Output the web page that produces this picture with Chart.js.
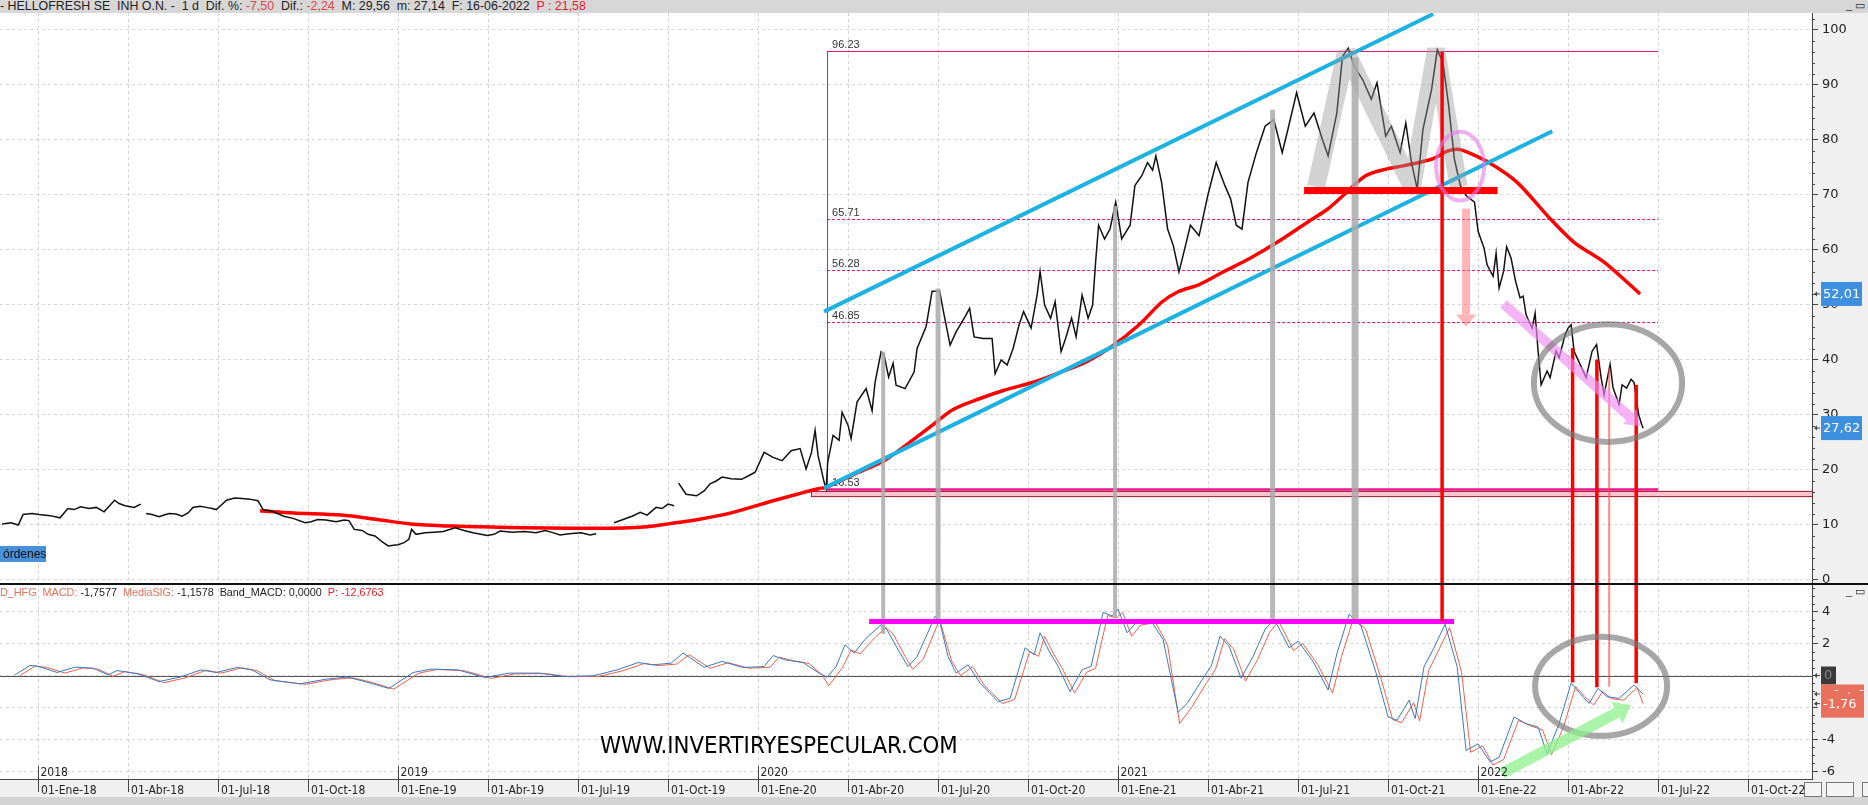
<!DOCTYPE html>
<html>
<head>
<meta charset="utf-8">
<script src="https://cdn.jsdelivr.net/npm/chart.js@4.4.0/dist/chart.umd.min.js"></script>
<style>
  body { margin:0; width:1868px; height:805px; overflow:hidden; background:#fff; position:relative; font-family:'Liberation Sans', Arial, sans-serif; }
  #head { position:absolute; left:0; top:0; width:1868px; height:13px; background:#d7d7d7; font-size:12.4px; line-height:13px; color:#222; white-space:nowrap; }
  #head .neg { color:#e0454a; }
  #head .p { color:#e8202a; }
  #chart { position:absolute; left:0; top:13px; }
  #macdTxt { position:absolute; left:0; top:586px; font-size:10.8px; line-height:13px; color:#222; white-space:nowrap; }
  #macdTxt .lab { color:#e8705a; }
  #macdTxt .p { color:#e8202a; }
  #ordenes { position:absolute; left:0; top:546px; width:43px; height:16px; background:#4a90d9; color:#111; font-size:12px; line-height:16px; padding-left:3px; }
  #wm { position:absolute; left:600px; top:732px; font-family:'Liberation Sans Narrow', 'DejaVu Sans Condensed', Arial, sans-serif; font-size:23.7px; line-height:26px; color:#000; white-space:nowrap; }
  #foot { position:absolute; left:0; top:797px; width:1868px; height:8px; background:#d4d4d4; }
  .btn { position:absolute; border:1px solid #777; background:#f4f4f4; }
  .win { position:absolute; font-size:11px; line-height:11px; color:#333; }
</style>
</head>
<body>
<div id="head">- HELLOFRESH SE&nbsp; INH O.N. -&nbsp; 1 d&nbsp; Dif. %: <span class="neg">-7,50</span>&nbsp; Dif.: <span class="neg">-2,24</span>&nbsp; M: 29,56&nbsp; m: 27,14&nbsp; F: 16-06-2022&nbsp; <span class="p">P : 21,58</span></div>
<div class="win" style="left:1846px; top:0px;">_ &#9645;</div>
<canvas id="chart" width="1868" height="792"></canvas>
<div id="macdTxt"><span class="lab">D_HFG&nbsp; MACD:</span> -1,7577&nbsp; <span class="lab">MediaSIG:</span> -1,1578&nbsp; Band_MACD: 0,0000&nbsp; <span class="p">P: -12,6763</span></div>
<div class="win" style="left:1846px; top:586px;">_ &#9645;</div>
<div id="ordenes">órdenes</div>
<div id="wm">WWW.INVERTIRYESPECULAR.COM</div>
<div id="foot"></div>
<div class="btn" style="left:1804px; top:782px; width:16px; height:13px;"></div>
<div class="btn" style="left:1826px; top:782px; width:26px; height:13px;"></div>
<div class="btn" style="left:1862px; top:782px; width:10px; height:13px;"></div>
<script>
// time axis: months since 01-Ene-2018
var xMin = -1.27, xMax = 59.13;
var quarterTicks = [0, 3, 6, 9, 12, 15, 18, 21, 24, 27, 30, 33, 36, 39, 42, 45, 48, 51, 54, 57];
var quarterNames = ['Ene', 'Abr', 'Jul', 'Oct'];
var yearTicks = [0, 12, 24, 36, 48];
var yearLabels = ['2018', '2019', '2020', '2021', '2022'];
var priceTicks = [0, 10, 20, 30, 40, 50, 60, 70, 80, 90, 100];
var macdTicks = [-6, -4, -2, 0, 2, 4];

// HelloFresh daily closes
var priceT = [
  -1.2, -0.9, -0.66, -0.5, -0.2, 0.03, 0.4, 0.73, 0.99, 1.2,
  1.42, 1.7, 1.94, 2.2, 2.55, 2.7, 2.9, 3.2, 3.42, 3.5,
  3.6, 3.8, 4.03, 4.2, 4.375, 4.6, 4.8, 5.0, 5.16, 5.4,
  5.6, 5.8, 5.94, 6.1, 6.28, 6.55, 6.8, 7.05, 7.33, 7.5,
  7.8, 8.19, 8.5, 8.9, 9.1, 9.32, 9.6, 9.93, 10.2, 10.36,
  10.54, 10.8, 11.0, 11.23, 11.45, 11.67, 11.85, 12.0, 12.2, 12.36,
  12.45, 12.6, 12.9, 13.2, 13.5, 13.9, 14.2, 14.5, 14.97, 15.2,
  15.4, 15.8, 16.2, 16.6, 16.9, 17.1, 17.4, 17.7, 18.1, 18.4,
  18.6, 18.9, 19.2, 19.5, 19.8, 20.07, 20.3, 20.6, 20.8, 21.0,
  21.2, 21.28, 21.35, 21.6, 21.95, 22.2, 22.4, 22.6, 22.8, 23.1,
  23.45, 23.7, 23.9, 24.2, 24.5, 24.8, 25.1, 25.4, 25.6, 25.78,
  25.9, 26.0, 26.2, 26.27, 26.32, 26.5, 26.7, 26.8, 27.0, 27.1,
  27.3, 27.6, 27.8, 27.9, 28.1, 28.2, 28.35, 28.5, 28.6, 28.9,
  29.2, 29.3, 29.6, 29.8, 30.05, 30.2, 30.4, 30.6, 30.9, 31.05,
  31.2, 31.5, 31.8, 31.9, 32.1, 32.3, 32.5, 32.7, 32.85, 33.1,
  33.3, 33.4, 33.55, 33.75, 33.9, 34.1, 34.25, 34.45, 34.6, 34.8,
  35.0, 35.15, 35.25, 35.35, 35.55, 35.73, 35.92, 36.12, 36.4, 36.56,
  36.79, 36.98, 37.15, 37.26, 37.45, 37.65, 37.84, 38.03, 38.22, 38.41,
  38.7, 38.99, 39.27, 39.56, 39.75, 39.94, 40.13, 40.33, 40.61, 40.9,
  41.19, 41.47, 41.66, 41.95, 42.24, 42.53, 42.81, 43.0, 43.29, 43.48,
  43.67, 43.87, 44.15, 44.44, 44.63, 44.92, 45.11, 45.4, 45.59, 45.78,
  45.97, 46.16, 46.45, 46.64, 46.83, 47.02, 47.21, 47.41, 47.6, 47.88,
  48.0, 48.2, 48.3, 48.5, 48.6, 48.7, 48.85, 48.95, 49.1, 49.25,
  49.4, 49.5, 49.6, 49.8, 49.9, 50.0, 50.1, 50.3, 50.4, 50.6,
  50.7, 50.9, 51.0, 51.1, 51.2, 51.4, 51.6, 51.8, 51.95, 52.1,
  52.2, 52.4, 52.5, 52.7, 52.8, 52.95, 53.1, 53.2, 53.35, 53.45,
  53.5
];
var priceV = [
  10.2, 10.4, 10.0, 11.9, 12.1, 11.9, 11.7, 11.3, 13.0, 12.8,
  13.3, 13.0, 13.2, 12.4, 14.5, 13.9, 13.5, 13.2, 13.8, null,
  12.1, 11.9, 11.5, 11.8, 12.1, 12.0, 11.6, 12.2, 13.2, 13.4,
  13.2, 13.0, 12.8, 13.6, 14.5, 14.9, 14.8, 14.7, 14.4, 12.8,
  12.5, 11.6, 11.2, 10.4, 10.6, 11.0, 10.9, 10.6, 10.9, 10.8,
  9.2, 9.0, 8.3, 8.0, 7.0, 6.2, 6.3, 6.4, 6.8, 7.4,
  9.2, 8.3, 8.6, 8.7, 8.8, 9.5, 9.0, 8.6, 8.1, 8.3,
  8.9, 8.7, 8.8, 8.6, 9.0, 8.7, 8.2, 8.4, 8.6, 8.2,
  8.4, null, 10.4, 11.0, 11.6, 12.3, 11.8, 13.2, 13.0, 13.8,
  13.5, null, 17.6, 15.6, 15.3, 16.2, 17.5, 18.0, 18.7, 18.4,
  18.3, 19.0, 19.6, 23.2, 22.3, 21.7, 23.5, 23.9, 20.2, 23.2,
  27.2, 22.6, 17.8, 16.6, 21.4, 26.3, 25.4, 30.5, 28.1, 25.7,
  32.4, 34.8, 30.8, 36.0, 41.5, 40.9, 36.9, 39.4, 35.4, 34.8,
  37.8, 42.1, 46.1, 52.5, 52.5, 48.2, 42.7, 45.1, 47.9, 49.4,
  44.2, 43.9, 43.9, 37.5, 40.0, 39.1, 42.1, 46.4, 48.8, 45.8,
  51.8, 56.1, 50.0, 47.6, 50.6, 41.5, 43.9, 47.6, 44.2, 51.8,
  47.6, 50.0, 57.8, 64.5, 62.0, 63.8, 68.7, 62.0, 64.5, 71.7,
  73.5, 75.9, 74.5, 77.1, 72.3, 63.8, 60.8, 56.0, 60.2, 64.5,
  62.6, 69.9, 75.9, 71.7, 69.3, 64.5, 63.8, 72.3, 77.7, 82.5,
  83.7, 77.7, 81.9, 88.6, 82.5, 84.9, 80.1, 77.1, 84.9, 95.2,
  96.7, 93.4, 91.0, 87.4, 90.4, 80.7, 82.5, 77.7, 83.1, 75.9,
  71.1, 81.9, 89.2, 96.4, 94.0, 86.2, 76.5, 71.7, 69.9, 68.7,
  63.4, 60.3, 57.3, 55.2, 59.4, 53.1, 56.1, 60.6, 58.5, 54.3,
  51.3, 51.6, 48.2, 45.8, 48.5, 41.6, 35.5, 38.0, 36.8, 41.6,
  40.4, 44.6, 45.8, 46.4, 41.6, 39.2, 36.8, 41.6, 42.8, 36.8,
  33.7, 39.2, 34.9, 31.9, 35.5, 34.9, 36.5, 35.9, 30.1, 28.3,
  27.6
];

// long moving average (red)
var maT = [7.4, 8.5, 10.1, 11.3, 12.4, 13.8, 15.3, 17.0, 18.5, 19.5,
  20.3, 21.0, 22.0, 23.1, 24.5, 25.3, 26.0, 26.3, 27.2, 28.2,
  29.0, 29.8, 30.5, 31.4, 32.2, 33.2, 34.1, 34.95, 35.8, 36.7,
  37.45, 38.0, 38.7, 39.5, 40.4, 41.3, 42.3, 43.0, 43.5, 44.25,
  45.0, 45.5, 46.45, 47.0, 47.3, 47.6, 48.36, 49.3, 50.3, 51.2,
  52.2, 53.4];
var maV = [12.6, 12.2, 11.8, 11.0, 10.2, 9.8, 9.6, 9.45, 9.4, 9.45,
  9.7, 10.2, 11.0, 12.2, 14.4, 15.6, 16.6, 16.9, 19.2, 21.7,
  24.8, 28.1, 31.0, 33.0, 34.5, 36.0, 37.8, 39.7, 42.5, 46.4,
  50.5, 52.4, 53.7, 56.0, 58.5, 61.4, 65.0, 67.5, 69.9, 73.5,
  74.8, 75.3, 76.5, 78.0, 78.3, 77.9, 75.9, 72.3, 66.3, 61.4,
  57.8, 52.0];

// MACD pane, blue line
var macdT = [-0.77, -0.27, 0.03, 0.63, 1.23, 1.83, 2.33, 2.63, 3.33, 4.03,
  4.73, 5.43, 5.93, 6.63, 7.13, 7.73, 8.73, 9.6, 10.3, 10.9,
  11.7, 12.5, 13.1, 14.0, 14.9, 15.7, 16.7, 17.5, 18.5, 19.3,
  20.0, 20.5, 21.1, 21.5, 22.2, 22.8, 23.5, 24.2, 24.5, 24.9,
  25.5, 26.0, 26.3, 26.6, 26.9, 27.2, 27.6, 28.1, 28.3, 28.7,
  29.0, 29.3, 29.9, 30.05, 30.33, 30.6, 31.0, 31.4, 32.0, 32.4,
  32.9, 33.2, 33.4, 33.7, 34.0, 34.4, 34.8, 35.1, 35.5, 35.8,
  36.0, 36.3, 36.6, 37.1, 37.5, 38.0, 38.3, 38.8, 39.1, 39.4,
  39.7, 40.1, 40.5, 40.9, 41.2, 41.5, 41.7, 42.0, 42.5, 43.0,
  43.3, 43.7, 44.1, 44.6, 45.0, 45.3, 45.7, 45.9, 46.2, 46.5,
  46.9, 47.3, 47.6, 48.0, 48.4, 48.7, 49.2, 49.6, 50.0, 50.3,
  50.7, 51.1, 51.4, 51.7, 52.0, 52.3, 52.7, 53.2, 53.5];
var macdV = [0.04, 0.63, 0.56, 0.19, 0.52, 0.46, 0.04, 0.31, 0.10, -0.38,
  -0.10, 0.35, 0.19, 0.50, 0.35, -0.27, -0.52, -0.23, -0.10, -0.38,
  -0.81, 0.19, 0.40, 0.35, -0.13, 0.15, 0.15, -0.06, -0.02, 0.35,
  0.81, 0.67, 0.77, 1.40, 0.52, 0.88, 0.50, 0.56, 1.25, 0.98,
  0.81, 0.19, -0.10, 0.56, 1.92, 1.40, 2.33, 3.17, 2.85, 1.50,
  0.56, 1.19, 3.70, 3.40, 1.20, 0.15, 0.67, -0.48, -1.64, -1.43,
  1.73, 1.30, 2.67, 1.52, 0.57, -1.01, 0.36, 0.57, 3.94, 3.73,
  4.15, 2.67, 3.30, 3.41, 2.25, -2.30, -1.75, -0.27, 0.57, 2.46,
  1.83, -0.17, 1.20, 2.88, 3.52, 2.46, 1.73, 2.15, 0.88, -0.91,
  1.41, 3.83, 3.09, 0.15, -2.59, -2.80, -1.54, -2.69, 0.57, 1.62,
  3.20, 0.57, -4.69, -4.27, -5.40, -5.12, -2.59, -3.01, -3.22, -4.90,
  -3.01, -0.48, -1.12, -1.75, -0.80, -1.33, -1.43, -0.59, -1.16];

// MACD pane, red line
var sigT = [-0.6, -0.1, 0.3, 0.9, 1.5, 2.0, 2.5, 2.9, 3.5, 4.2,
  4.9, 5.6, 6.1, 6.8, 7.3, 7.9, 8.9, 9.8, 10.5, 11.1,
  11.85, 12.7, 13.3, 14.2, 15.1, 15.9, 16.9, 17.7, 18.7, 19.5,
  20.2, 20.7, 21.3, 21.7, 22.4, 23.0, 23.7, 24.4, 24.7, 25.1,
  25.7, 26.15, 26.35, 26.8, 27.1, 27.4, 27.8, 28.25, 28.5, 28.9,
  29.15, 29.5, 30.05, 30.45, 30.75, 31.15, 31.55, 32.15, 32.55, 33.05,
  33.35, 33.55, 33.85, 34.15, 34.55, 34.95, 35.25, 35.65, 35.95, 36.15,
  36.45, 36.75, 37.25, 37.65, 38.05, 38.45, 38.95, 39.25, 39.55, 39.85,
  40.25, 40.65, 41.05, 41.35, 41.65, 41.85, 42.15, 42.65, 43.15, 43.45,
  43.85, 44.25, 44.75, 45.15, 45.45, 45.85, 46.05, 46.35, 46.65, 47.05,
  47.45, 47.75, 48.15, 48.5, 48.85, 49.35, 49.75, 50.15, 50.45, 50.85,
  51.25, 51.55, 51.85, 52.15, 52.45, 52.85, 53.3, 53.5];
var sigV = [0.0, 0.6, 0.5, 0.15, 0.48, 0.4, -0.05, 0.25, 0.05, -0.45,
  -0.15, 0.33, 0.15, 0.48, 0.3, -0.33, -0.55, -0.25, -0.15, -0.42,
  -0.85, 0.15, 0.38, 0.3, -0.18, 0.1, 0.12, -0.08, -0.05, 0.3,
  0.75, 0.62, 0.72, 1.3, 0.45, 0.8, 0.45, 0.52, 1.15, 0.95,
  0.75, 0.0, -0.65, 0.45, 1.6, 1.35, 2.2, 3.0, 2.6, 1.2,
  0.4, 1.0, 3.5, 0.9, 0.0, 0.55, -0.65, -1.75, -1.5, 1.5,
  1.2, 2.45, 1.35, 0.4, -1.1, 0.2, 0.45, 3.75, 3.6, 3.95,
  2.45, 3.15, 3.3, 1.9, -3.01, -2.0, -0.45, 0.4, 2.3, 1.65,
  -0.35, 1.0, 2.7, 3.4, 2.3, 1.55, 2.0, 0.7, -1.1, 1.2,
  3.6, 2.9, -0.1, -2.75, -2.95, -1.7, -2.85, 0.3, 1.45, 3.0,
  0.2, -4.8, -4.4, -5.6, -5.25, -2.8, -3.15, -3.4, -4.95, -3.2,
  -0.7, -1.3, -1.85, -1.0, -1.45, -1.55, -0.75, -1.76];

// drawn analysis (time, price / macd value)
var fibLevels = [96.23, 65.71, 56.28, 46.85, 16.53];
var fibLabels = ['96.23', '65.71', '56.28', '46.85', '16.53'];
var fibSpan = [26.3, 54.0];
var bandStart = 25.76, bandLow = 15.25, bandHigh = 16.2;
var channelUp = [26.2, 48.8, 46.5, 102.9];
var channelLow = [26.2, 16.7, 50.47, 81.6];
var grayLinkT = [28.17, 30.0, 35.9, 41.15, 43.9];
var grayLinkFrom = [41.5, 53.0, 68.0, 85.5, 95.0];
var grayLinkTo = [2.6, 3.4, 3.6, 3.4, 3.4];
var redLinkT = [46.8, 51.15, 51.96, 52.37, 53.27];
var redLinkFrom = [96.0, 42.2, 40.1, 38.6, 35.5];
var redLinkTo = [3.4, -0.44, -0.74, -0.7, -0.48];
var mShapeT = [42.6, 43.6, 45.8, 46.6, 47.35];
var mShapeV = [71.5, 96.0, 71.5, 96.5, 71.5];
var neckline = [42.2, 48.65, 70.8];
var macdLevel = [27.7, 47.2, 3.37];
var dropArrow = [47.6, 67.5, 47.6, 46.1];
var trendArrow = [48.85, 50.2, 53.4, 28.0];
var macdArrow = [48.8, -6.1, 53.1, -1.85];
var topCircle = [47.4, 75.25, 0.8, 6.25];
var priceCircle = [52.33, 35.8, 2.47, 10.7];
var macdCircle = [52.1, -0.67, 2.2, 3.1];
var lastPrice = [52.01, 27.62];
var lastPriceLabels = ['52,01', '27,62'];

function toXY(ts, vs) {
  return ts.map(function (t, i) { return { x: t, y: vs[i] }; });
}

function seg(ctx, x1, y1, x2, y2) {
  ctx.beginPath();
  ctx.moveTo(x1, y1);
  ctx.lineTo(x2, y2);
  ctx.stroke();
}

function arrow(ctx, x1, y1, x2, y2, w, color, headL, headW) {
  var a = Math.atan2(y2 - y1, x2 - x1);
  var bx = x2 - headL * Math.cos(a), by = y2 - headL * Math.sin(a);
  ctx.strokeStyle = color;
  ctx.lineWidth = w;
  ctx.lineCap = 'butt';
  seg(ctx, x1, y1, bx, by);
  ctx.fillStyle = color;
  ctx.beginPath();
  ctx.moveTo(x2, y2);
  ctx.lineTo(bx + headW / 2 * Math.sin(a), by - headW / 2 * Math.cos(a));
  ctx.lineTo(bx - headW / 2 * Math.sin(a), by + headW / 2 * Math.cos(a));
  ctx.closePath();
  ctx.fill();
}

// no edge padding on the axes, the panes start right at the canvas edge
function noPad(s) {
  s.paddingTop = 0;
  s.paddingBottom = 0;
  s.paddingLeft = 0;
  s.paddingRight = 0;
}

var narrow = "'Liberation Sans Narrow', 'DejaVu Sans Condensed', Arial, sans-serif";

var overlay = {
  id: 'overlay',
  beforeDraw: function (chart) {
    var ctx = chart.ctx, ca = chart.chartArea;
    ctx.save();
    ctx.fillStyle = '#f0f0f0';
    ctx.fillRect(ca.right, 0, chart.width - ca.right, ca.bottom);
    ctx.fillRect(0, ca.bottom, chart.width, chart.height - ca.bottom);
    ctx.restore();
  },
  beforeDatasetsDraw: function (chart) {
    var ctx = chart.ctx, ca = chart.chartArea;
    var x = chart.scales.x, y = chart.scales.y, y2 = chart.scales.y2;
    ctx.save();
    // quarter grid
    ctx.strokeStyle = '#d2d2d2';
    ctx.lineWidth = 1;
    ctx.setLineDash([3, 3]);
    quarterTicks.forEach(function (t) {
      var px = Math.round(x.getPixelForValue(t)) + 0.5;
      seg(ctx, px, ca.top, px, ca.bottom);
    });
    ctx.setLineDash([]);
    // macd zero line
    ctx.strokeStyle = '#555';
    var z = Math.round(y2.getPixelForValue(0)) + 0.5;
    seg(ctx, ca.left, z, ca.right, z);

    // support band
    var bx = x.getPixelForValue(bandStart);
    var bt = y.getPixelForValue(bandHigh), bb = y.getPixelForValue(bandLow);
    ctx.fillStyle = '#ffc4cf';
    ctx.fillRect(bx, bt, ca.right - bx, bb - bt);
    ctx.strokeStyle = '#8b1c2c';
    ctx.strokeRect(bx + 0.5, bt + 0.5, ca.right - bx, bb - bt);

    // fibonacci
    var fx1 = x.getPixelForValue(fibSpan[0]), fx2 = x.getPixelForValue(fibSpan[1]);
    ctx.strokeStyle = '#e8147a';
    ctx.lineWidth = 1;
    seg(ctx, Math.round(fx1) + 0.5, y.getPixelForValue(fibLevels[0]), Math.round(fx1) + 0.5, y.getPixelForValue(fibLevels[4]));
    ctx.font = "11px 'Liberation Sans', Arial, sans-serif";
    ctx.fillStyle = '#333';
    fibLevels.forEach(function (lv, i) {
      var py = Math.round(y.getPixelForValue(lv)) + 0.5;
      ctx.setLineDash(i > 0 && i < 4 ? [3, 2] : []);
      ctx.lineWidth = i === 4 ? 2.5 : 1;
      ctx.strokeStyle = i === 4 ? '#f0148c' : '#e8147a';
      seg(ctx, fx1, py, fx2, py);
      ctx.fillText(fibLabels[i], fx1 + 5, py - 4);
    });
    ctx.restore();
  },
  afterDatasetsDraw: function (chart) {
    var ctx = chart.ctx, ca = chart.chartArea;
    var x = chart.scales.x, y = chart.scales.y, y2 = chart.scales.y2;
    function X(t) { return x.getPixelForValue(t); }
    function P(v) { return y.getPixelForValue(v); }
    function M(v) { return y2.getPixelForValue(v); }
    ctx.save();

    // price pane drawings, clipped
    ctx.save();
    ctx.beginPath();
    ctx.rect(ca.left, y.top, ca.right - ca.left, y.bottom - y.top);
    ctx.clip();
    ctx.lineCap = 'butt';
    ctx.strokeStyle = '#1cb2e2';
    ctx.lineWidth = 4;
    seg(ctx, X(channelUp[0]), P(channelUp[1]), X(channelUp[2]), P(channelUp[3]));
    seg(ctx, X(channelLow[0]), P(channelLow[1]), X(channelLow[2]), P(channelLow[3]));
    // M pattern
    ctx.strokeStyle = 'rgba(150,150,150,0.42)';
    ctx.lineWidth = 18;
    ctx.lineJoin = 'bevel';
    ctx.beginPath();
    mShapeT.forEach(function (t, i) {
      if (i === 0) ctx.moveTo(X(t), P(mShapeV[i])); else ctx.lineTo(X(t), P(mShapeV[i]));
    });
    ctx.stroke();
    ctx.restore();

    // gray links price -> macd
    var grayW = [4, 5, 4, 5, 7];
    ctx.strokeStyle = 'rgba(170,170,170,0.85)';
    grayLinkT.forEach(function (t, i) {
      ctx.lineWidth = grayW[i];
      seg(ctx, X(t), P(grayLinkFrom[i]), X(t), M(grayLinkTo[i]));
    });
    // magenta macd level
    ctx.strokeStyle = '#ff00ff';
    ctx.lineWidth = 5;
    seg(ctx, X(macdLevel[0]), M(macdLevel[2]), X(macdLevel[1]), M(macdLevel[2]));
    // neckline
    ctx.strokeStyle = '#ff0000';
    ctx.lineWidth = 7;
    seg(ctx, X(neckline[0]), P(neckline[2]), X(neckline[1]), P(neckline[2]));
    // red links
    redLinkT.forEach(function (t, i) {
      ctx.strokeStyle = i === 3 ? 'rgba(255,70,70,0.65)' : '#ff0000';
      ctx.lineWidth = i === 3 ? 2 : 3.5;
      seg(ctx, X(t), P(redLinkFrom[i]), X(t), M(redLinkTo[i]));
    });
    // drop target arrow
    arrow(ctx, X(dropArrow[0]), P(dropArrow[1]), X(dropArrow[2]), P(dropArrow[3]), 8, 'rgba(255,120,120,0.55)', 12, 20);
    // circle round the break
    ctx.strokeStyle = 'rgba(230,120,230,0.6)';
    ctx.lineWidth = 4;
    ctx.beginPath();
    ctx.ellipse(X(topCircle[0]), P(topCircle[1]), X(topCircle[0] + topCircle[2]) - X(topCircle[0]), P(topCircle[1] - topCircle[3]) - P(topCircle[1]), 0, 0, Math.PI * 2);
    ctx.stroke();
    // descending arrow
    arrow(ctx, X(trendArrow[0]), P(trendArrow[1]), X(trendArrow[2]), P(trendArrow[3]), 10, 'rgba(240,140,240,0.65)', 14, 20);
    // gray circles
    ctx.strokeStyle = 'rgba(120,120,120,0.65)';
    ctx.lineWidth = 6;
    ctx.beginPath();
    ctx.ellipse(X(priceCircle[0]), P(priceCircle[1]), X(priceCircle[0] + priceCircle[2]) - X(priceCircle[0]), P(priceCircle[1] - priceCircle[3]) - P(priceCircle[1]), 0, 0, Math.PI * 2);
    ctx.stroke();
    ctx.beginPath();
    ctx.ellipse(X(macdCircle[0]), M(macdCircle[1]), X(macdCircle[0] + macdCircle[2]) - X(macdCircle[0]), M(macdCircle[1] - macdCircle[3]) - M(macdCircle[1]), 0, 0, Math.PI * 2);
    ctx.stroke();
    // green arrow
    arrow(ctx, X(macdArrow[0]), M(macdArrow[1]), X(macdArrow[2]), M(macdArrow[3]), 11, 'rgba(140,240,140,0.75)', 16, 24);

    // year marks
    ctx.fillStyle = '#222';
    ctx.strokeStyle = '#444';
    ctx.lineWidth = 1;
    ctx.font = '12px ' + narrow;
    yearTicks.forEach(function (t, i) {
      var px = Math.round(X(t)) + 0.5;
      seg(ctx, px, ca.bottom - 13, px, ca.bottom);
      ctx.fillText(yearLabels[i], px + 2, ca.bottom - 3);
    });

    // pane separator
    ctx.strokeStyle = '#111';
    ctx.lineWidth = 2;
    seg(ctx, 0, y.bottom, chart.width, y.bottom);

    // minor ticks on the right axis
    ctx.strokeStyle = '#444';
    ctx.lineWidth = 1;
    for (var v = 2; v < 103; v += 2) {
      if (v % 10 === 0) continue;
      var py = Math.round(P(v)) + 0.5;
      seg(ctx, ca.right, py, ca.right + 3, py);
    }
    for (var m = -6; m <= 5.5; m += 0.5) {
      if (m % 2 === 0) continue;
      var my = Math.round(M(m)) + 0.5;
      seg(ctx, ca.right, my, ca.right + 3, my);
    }

    // last value boxes
    ctx.font = "13px 'DejaVu Sans', sans-serif";
    ctx.textBaseline = 'middle';
    lastPrice.forEach(function (v, i) {
      var py = P(v);
      ctx.fillStyle = '#3d8fe0';
      ctx.fillRect(ca.right + 9, py - 12, chart.width - ca.right - 15, 24);
      ctx.fillStyle = '#fff';
      ctx.fillText(lastPriceLabels[i], ca.right + 11, py + 1);
      arrow(ctx, ca.right + 8, py, ca.right + 2, py, 1, '#444', 3, 5);
    });
    var zy = M(0);
    ctx.fillStyle = '#3a3a3a';
    ctx.fillRect(ca.right + 9, zy - 9, 15, 18);
    ctx.fillStyle = '#888';
    ctx.fillText('0', ca.right + 12, zy);
    var sy = M(-1.76);
    ctx.fillStyle = '#e8705c';
    ctx.fillRect(ca.right + 9, zy + 9, chart.width - ca.right - 13, sy + 14 - zy - 9);
    ctx.fillStyle = '#fff';
    ctx.fillText('-  .  -', ca.right + 22, zy + 15);
    ctx.fillText('-1,76', ca.right + 11, sy + 1);
    arrow(ctx, ca.right + 8, zy, ca.right + 2, zy, 1, '#444', 3, 5);
    arrow(ctx, ca.right + 8, M(-1.16), ca.right + 2, M(-1.16), 1, '#444', 3, 5);
    arrow(ctx, ca.right + 8, sy, ca.right + 2, sy, 1, '#444', 3, 5);
    ctx.restore();
  }
};

new Chart(document.getElementById('chart').getContext('2d'), {
  type: 'line',
  data: {
    datasets: [
      { label: 'HelloFresh', data: toXY(priceT, priceV), yAxisID: 'y', borderColor: '#111', borderWidth: 1.5, pointRadius: 0, spanGaps: false },
      { label: 'Media', data: toXY(maT, maV), yAxisID: 'y', borderColor: '#ff0000', borderWidth: 3.5, pointRadius: 0, tension: 0.3 },
      { label: 'MediaSIG', data: toXY(macdT, macdV), yAxisID: 'y2', borderColor: '#3b78c4', borderWidth: 1, pointRadius: 0 },
      { label: 'MACD', data: toXY(sigT, sigV), yAxisID: 'y2', borderColor: '#f0604c', borderWidth: 1, pointRadius: 0 }
    ]
  },
  options: {
    responsive: false,
    animation: false,
    devicePixelRatio: 1,
    layout: { padding: 0 },
    plugins: { legend: { display: false }, tooltip: { enabled: false } },
    scales: {
      x: {
        type: 'linear', position: 'bottom', min: xMin, max: xMax,
        afterBuildTicks: function (s) { s.ticks = quarterTicks.map(function (v) { return { value: v }; }); },
        afterFit: function (s) { s.height = 26; noPad(s); },
        grid: { drawOnChartArea: false, drawTicks: true, tickLength: 13, color: '#444' },
        border: { color: '#444' },
        ticks: {
          align: 'start', labelOffset: 3, maxRotation: 0, minRotation: 0, autoSkip: false, padding: -8,
          color: '#222', font: { family: narrow, size: 12 },
          callback: function (v) {
            var yy = 18 + Math.floor(v / 12);
            return '01-' + quarterNames[(v % 12) / 3] + '-' + yy;
          }
        }
      },
      y: {
        type: 'linear', position: 'right', stack: 'panes', stackWeight: 571, min: -0.73, max: 103.09,
        afterBuildTicks: function (s) { s.ticks = priceTicks.map(function (v) { return { value: v }; }); },
        afterFit: function (s) { s.width = 56; noPad(s); },
        grid: { color: '#d8d8d8', tickColor: '#444', tickLength: 6 },
        border: { color: '#444', dash: [3, 3] },
        ticks: { padding: 4, color: '#222', font: { family: "'DejaVu Sans', sans-serif", size: 13 } }
      },
      y2: {
        type: 'linear', position: 'right', stack: 'panes', stackWeight: 195, min: -6.47, max: 5.72,
        afterBuildTicks: function (s) { s.ticks = macdTicks.map(function (v) { return { value: v }; }); },
        afterFit: function (s) { s.width = 56; noPad(s); },
        grid: { color: '#d8d8d8', tickColor: '#444', tickLength: 6 },
        border: { color: '#444', dash: [3, 3] },
        ticks: { padding: 4, color: '#222', font: { family: "'DejaVu Sans', sans-serif", size: 13 } }
      }
    }
  },
  plugins: [overlay]
});
</script>
</body>
</html>
